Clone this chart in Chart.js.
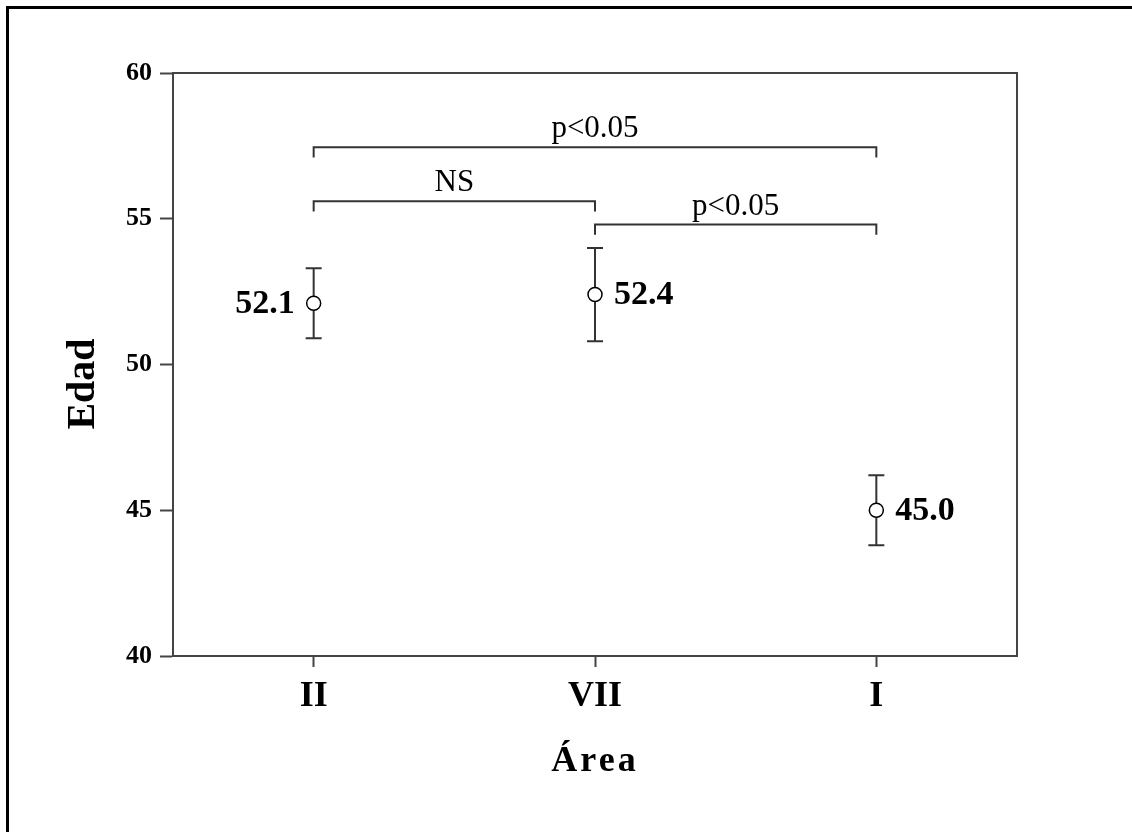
<!DOCTYPE html>
<html>
<head>
<meta charset="utf-8">
<script src="https://cdn.jsdelivr.net/npm/chart.js@4"></script>
<style>
html, body { margin: 0; padding: 0; background: #fff; overflow: hidden; }
#wrap { position: relative; width: 1132px; height: 832px; }
#frame { position: absolute; left: 6px; top: 6px; width: 1200px; height: 900px; border-top: 3px solid #000; border-left: 3px solid #000; }
canvas { position: absolute; left: 0; top: 0; }
</style>
</head>
<body>
<div id="wrap">
  <div id="frame"></div>
  <canvas id="edadChart" width="1132" height="832"></canvas>
</div>
<script>
const categories = ['II', 'VII', 'I'];
const means = [52.1, 52.4, 45.0];
const lower = [50.9, 50.8, 43.8];
const upper = [53.3, 54.0, 46.2];
const yTicks = [40, 45, 50, 55, 60];
const compFrom = ['II', 'II', 'VII'];
const compTo = ['I', 'VII', 'I'];
const compLevel = [57.45, 55.6, 54.8];
const compText = ['p<0.05', 'NS', 'p<0.05'];

const serif = '"Liberation Serif", "Times New Roman", serif';
const drop = 0.35;
const labelSide = [-1, 1, 1];

// datasets de los corchetes
const bracketSets = compLevel.map(function(lvl, i) {
    return {
        type: 'line',
        data: [
            { x: compFrom[i], y: lvl - drop },
            { x: compFrom[i], y: lvl },
            { x: compTo[i], y: lvl },
            { x: compTo[i], y: lvl - drop }
        ],
        borderColor: '#333',
        borderWidth: 2,
        pointRadius: 0,
        tension: 0,
        fill: false
    };
});

const extras = {
    id: 'extras',
    beforeDatasetsDraw(chart) {
        const ctx = chart.ctx;
        const x = chart.scales.x, y = chart.scales.y;
        ctx.save();
        ctx.strokeStyle = '#333';
        ctx.lineWidth = 2;
        categories.forEach(function(c, i) {
            const px = x.getPixelForValue(i);
            const top = y.getPixelForValue(upper[i]);
            const bot = y.getPixelForValue(lower[i]);
            ctx.beginPath();
            ctx.moveTo(px, top); ctx.lineTo(px, bot);
            ctx.moveTo(px - 8, top); ctx.lineTo(px + 8, top);
            ctx.moveTo(px - 8, bot); ctx.lineTo(px + 8, bot);
            ctx.stroke();
        });
        ctx.restore();
    },
    afterDraw(chart) {
        const ctx = chart.ctx;
        const x = chart.scales.x, y = chart.scales.y;
        const area = chart.chartArea;
        ctx.save();
        // caja del grafico
        ctx.strokeStyle = '#444';
        ctx.lineWidth = 2;
        ctx.strokeRect(area.left, area.top, area.right - area.left, area.bottom - area.top);

        // etiquetas de valores
        ctx.fillStyle = '#000';
        ctx.font = 'bold 34px ' + serif;
        ctx.textBaseline = 'middle';
        means.forEach(function(v, i) {
            const px = x.getPixelForValue(i);
            const py = y.getPixelForValue(v);
            ctx.textAlign = labelSide[i] < 0 ? 'right' : 'left';
            ctx.fillText(v.toFixed(1), px + labelSide[i] * 19, py + 1);
        });

        // textos de los corchetes
        ctx.font = '31px ' + serif;
        ctx.textAlign = 'center';
        ctx.textBaseline = 'alphabetic';
        compText.forEach(function(t, i) {
            const a = x.getPixelForValue(categories.indexOf(compFrom[i]));
            const b = x.getPixelForValue(categories.indexOf(compTo[i]));
            ctx.fillText(t, (a + b) / 2, y.getPixelForValue(compLevel[i]) - 10);
        });

        // titulos de ejes
        ctx.font = 'bold 40px ' + serif;
        ctx.textBaseline = 'middle';
        ctx.save();
        ctx.translate(84, 384);
        ctx.rotate(-Math.PI / 2);
        ctx.fillText('Edad', 0, 0);
        ctx.restore();
        ctx.font = 'bold 36px ' + serif;
        ctx.letterSpacing = '3px';
        ctx.fillText('Área', (area.left + area.right) / 2, 762);
        ctx.restore();
    }
};

new Chart(document.getElementById('edadChart'), {
    type: 'line',
    data: {
        labels: categories,
        datasets: [{
            label: 'Edad',
            data: means,
            showLine: false,
            pointRadius: 7,
            pointHoverRadius: 7,
            pointStyle: 'circle',
            pointBackgroundColor: '#fff',
            pointBorderColor: '#000',
            pointBorderWidth: 1.5
        }].concat(bracketSets)
    },
    options: {
        responsive: false,
        animation: false,
        events: [],
        layout: { padding: { top: 73, right: 115, left: 0, bottom: 0 } },
        plugins: { legend: { display: false }, tooltip: { enabled: false } },
        scales: {
            x: {
                type: 'category',
                offset: true,
                afterFit: function(s) { s.height = 176; },
                grid: { display: true, drawOnChartArea: false, offset: false, tickLength: 11, tickColor: '#444', tickWidth: 2 },
                border: { display: true, color: '#444', width: 2 },
                ticks: { color: '#000', padding: 8, font: { family: serif, size: 36, weight: 'bold' } }
            },
            y: {
                min: 40,
                max: 60,
                afterFit: function(s) { s.width = 173; },
                afterBuildTicks: function(s) { s.ticks = yTicks.map(function(v) { return { value: v }; }); },
                grid: { display: true, drawOnChartArea: false, tickLength: 13, tickColor: '#444', tickWidth: 2 },
                border: { display: true, color: '#444', width: 2 },
                ticks: { color: '#000', padding: 8, font: { family: serif, size: 26, weight: 'bold' } }
            }
        }
    },
    plugins: [extras]
});
</script>
</body>
</html>
